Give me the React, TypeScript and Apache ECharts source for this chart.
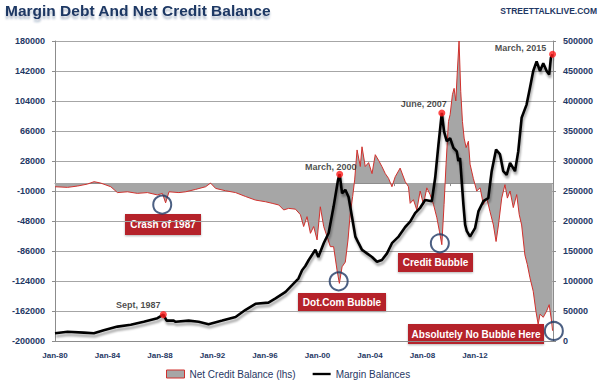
import React, { useEffect, useRef } from "react";
import * as echarts from "echarts";

// Margin balances (rhs), [decimal year, value]
const marginYears = [1980.0, 1980.89, 1982.04, 1982.75, 1983.45, 1984.42, 1985.36, 1986.28, 1987.25, 1987.67, 1987.9, 1988.4, 1988.54, 1989.46, 1990.17, 1990.87, 1991.84, 1992.78, 1993.49, 1994.19, 1995.11, 1995.61, 1996.32, 1996.78, 1997.23, 1997.49, 1997.72, 1997.96, 1998.43, 1998.64, 1999.02, 1999.37, 1999.72, 2000.03, 2000.15, 2000.32, 2000.55, 2000.78, 2001.02, 2001.26, 2001.49, 2001.73, 2002.08, 2002.44, 2002.79, 2003.14, 2003.5, 2003.85, 2004.32, 2004.79, 2005.14, 2005.49, 2005.85, 2006.2, 2006.67, 2006.91, 2007.14, 2007.38, 2007.54, 2007.73, 2007.97, 2008.2, 2008.44, 2008.55, 2008.67, 2008.79, 2008.91, 2009.03, 2009.15, 2009.38, 2009.73, 2009.97, 2010.32, 2010.67, 2010.91, 2011.22, 2011.5, 2011.73, 2011.97, 2012.21, 2012.56, 2012.79, 2013.03, 2013.38, 2013.62, 2013.85, 2014.09, 2014.33, 2014.56, 2014.8, 2014.98, 2015.1, 2015.22];
const marginValues = [13000, 15500, 14000, 13000, 18000, 24000, 27000, 32000, 38000, 44000, 34000, 34000, 32000, 34000, 32000, 28000, 34000, 40000, 52000, 62000, 64000, 71000, 82000, 93000, 104000, 118000, 125000, 135000, 152000, 140000, 163000, 180000, 224000, 268000, 278000, 246000, 252000, 240000, 207000, 174000, 163000, 152000, 146000, 140000, 132000, 135000, 146000, 163000, 174000, 190000, 199000, 213000, 222000, 235000, 233000, 272000, 327000, 380000, 349000, 333000, 338000, 322000, 316000, 300000, 305000, 266000, 227000, 194000, 183000, 174000, 188000, 216000, 233000, 238000, 283000, 319000, 311000, 283000, 277000, 297000, 283000, 316000, 372000, 394000, 422000, 450000, 466000, 450000, 463000, 450000, 444000, 472000, 478000];

// Net credit balance (lhs)
const creditYears = [1980.0, 1980.89, 1981.6, 1982.3, 1982.77, 1983.24, 1983.95, 1984.42, 1985.13, 1985.83, 1986.54, 1987.25, 1987.6, 1987.83, 1988.07, 1988.77, 1989.25, 1989.95, 1990.66, 1991.01, 1991.37, 1992.07, 1992.78, 1993.49, 1994.19, 1994.9, 1995.37, 1995.84, 1996.19, 1996.54, 1997.02, 1997.37, 1997.6, 1997.84, 1998.08, 1998.31, 1998.55, 1998.78, 1999.02, 1999.26, 1999.49, 1999.72, 1999.96, 2000.13, 2000.32, 2000.55, 2000.74, 2000.9, 2001.07, 2001.21, 2001.38, 2001.61, 2001.73, 2001.96, 2002.2, 2002.44, 2002.67, 2002.9, 2003.14, 2003.38, 2003.61, 2003.85, 2004.08, 2004.43, 2004.79, 2005.02, 2005.14, 2005.37, 2005.61, 2005.85, 2006.08, 2006.32, 2006.55, 2006.79, 2007.03, 2007.21, 2007.38, 2007.54, 2007.68, 2007.85, 2007.97, 2008.13, 2008.25, 2008.37, 2008.48, 2008.6, 2008.72, 2008.84, 2008.96, 2009.1, 2009.26, 2009.38, 2009.61, 2009.85, 2010.09, 2010.32, 2010.56, 2010.79, 2011.03, 2011.22, 2011.39, 2011.62, 2011.85, 2012.02, 2012.21, 2012.44, 2012.68, 2012.86, 2013.03, 2013.26, 2013.43, 2013.62, 2013.85, 2014.04, 2014.2, 2014.33, 2014.56, 2014.8, 2014.98, 2015.15, 2015.22];
const creditValues = [-4600, -5400, -3700, -1200, 1800, 0, -4600, -12000, -11000, -13000, -12000, -15000, -13000, -25000, -11000, -12000, -11000, -8000, -4600, 0, -6700, -9700, -12000, -17000, -21500, -23600, -25600, -27700, -34000, -32000, -33000, -40000, -55000, -42500, -63600, -55000, -72000, -30000, -55000, -68000, -80500, -80500, -110000, -127000, -106000, -100000, -72000, -38000, -17000, 4000, 42000, 21000, 46000, 21000, 26000, 12000, 36000, 29000, 21000, 12000, 6000, -4600, 8000, 19000, 1800, -4600, -25600, -21000, -34000, -10000, -27000, -6000, -14500, -27000, -44000, -61000, -78000, -27000, 24000, 78000, 87000, 112000, 120000, 104000, 142000, 180000, 116000, 78000, 57000, 45000, 53000, 24000, 6000, -10000, -6000, -27000, -19000, -36000, -53000, -74000, -53000, -19000, -2000, -19000, -10000, -31000, -14500, -40000, -53000, -91000, -103000, -120000, -137000, -162000, -179000, -166000, -170000, -162000, -154000, -175000, -187000];

// Highlighted margin peaks
const peakYears = [1987.67, 2000.15, 2007.38, 2015.22];
const peakValues = [44000, 278000, 380000, 478000];
const peakLabels = ["Sept, 1987", "March, 2000", "June, 2007", "March, 2015"];

// Circled net credit lows
const lowYears = [1987.59, 2000.08, 2007.24, 2015.31];
const lowValues = [-27300, -124400, -76250, -187300];

// Axis tick labels
const xTickYears = [1980, 1984, 1988, 1992, 1996, 2000, 2004, 2008, 2012];
const xTickLabels = ["Jan-80", "Jan-84", "Jan-88", "Jan-92", "Jan-96", "Jan-00", "Jan-04", "Jan-08", "Jan-12"];

const NAVY = "#1F3864";
const RED = "#D0312D";
const BOX = "#B5202A";
const FONT = "'Liberation Sans', Arial, sans-serif";

export default function App() {
  const ref = useRef<HTMLDivElement>(null);
  useEffect(() => {
    if (!ref.current) return;
    const chart = echarts.init(ref.current, null, { renderer: "svg" });
    const labelOffsets = [[-25, -2], [-9, 1], [-18, -1], [-32, 1.5]];
    const boxes = [
      { text: "Crash of 1987", x: 125, y: 214, w: 76, h: 21 },
      { text: "Dot.Com Bubble", x: 298, y: 293, w: 88, h: 18 },
      { text: "Credit Bubble", x: 398, y: 253, w: 75, h: 19 },
      { text: "Absolutely No Bubble Here", x: 408, y: 324, w: 136, h: 20 },
    ];
    const plain = (v: number) => String(v);
    const option: any = {
      animation: false,
      backgroundColor: "#ffffff",
      textStyle: { fontFamily: FONT },
      title: [
        {
          text: "Margin Debt And Net Credit Balance",
          left: 5,
          top: 2,
          padding: 0,
          textStyle: {
            fontFamily: FONT,
            fontSize: 15.5,
            fontWeight: "bold",
            color: NAVY,
            textShadowColor: "rgba(31,56,100,0.35)",
            textShadowBlur: 2,
            textShadowOffsetY: 3,
          },
        },
        {
          text: "STREETTALKLIVE.COM",
          right: 3,
          top: 6,
          padding: 0,
          textStyle: { fontFamily: FONT, fontSize: 8.5, fontWeight: "bold", color: NAVY },
        },
      ],
      grid: { left: 55, right: 47, top: 41, bottom: 42 },
      legend: {
        left: 166,
        top: 369,
        padding: 0,
        itemWidth: 18,
        itemHeight: 8,
        itemGap: 17,
        symbolKeepAspect: true,
        textStyle: { fontFamily: FONT, fontSize: 10, color: NAVY },
        data: [
          {
            name: "Net Credit Balance (lhs)",
            icon: "rect",
            itemStyle: { color: "#A6A6A6", borderColor: RED, borderWidth: 1 },
          },
          {
            name: "Margin Balances",
            icon: "path://M0,0L20,0L20,2.6L0,2.6Z",
            itemStyle: { color: "#000", borderWidth: 0 },
          },
        ],
      },
      xAxis: [
        {
          type: "value",
          min: 1980,
          max: 2015.25,
          interval: 4,
          axisLine: { show: true, onZero: true, onZeroAxisIndex: 0, lineStyle: { color: "#8c8c8c", width: 1 } },
          axisTick: { show: true, length: 3, lineStyle: { color: "#8c8c8c" } },
          axisLabel: { show: false },
          splitLine: { show: false },
        },
        {
          type: "value",
          position: "bottom",
          min: 1980,
          max: 2017.94,
          interval: 4,
          axisLine: { show: true, onZero: false, lineStyle: { color: "#8c8c8c", width: 1 } },
          axisTick: { show: false },
          splitLine: { show: false },
          axisLabel: {
            margin: 10,
            fontFamily: FONT,
            fontSize: 8,
            fontWeight: "bold",
            color: NAVY,
            showMinLabel: true,
            showMaxLabel: true,
            formatter: (v: number) => {
              const i = xTickYears.indexOf(Math.round(v * 100) / 100);
              return i >= 0 ? xTickLabels[i] : "";
            },
          },
        },
      ],
      yAxis: [
        {
          type: "value",
          position: "left",
          min: -200000,
          max: 180000,
          interval: 38000,
          axisLine: { show: true, lineStyle: { color: "#8c8c8c" } },
          axisTick: { show: true, length: 3, lineStyle: { color: "#8c8c8c" } },
          axisLabel: { margin: 10, fontFamily: FONT, fontSize: 9, fontWeight: "bold", color: NAVY, formatter: plain },
          splitLine: { show: true, lineStyle: { color: "#a6a6a6", width: 1 } },
        },
        {
          type: "value",
          position: "right",
          min: 0,
          max: 500000,
          interval: 50000,
          axisLine: { show: true, lineStyle: { color: "#8c8c8c" } },
          axisTick: { show: true, length: 3, lineStyle: { color: "#8c8c8c" } },
          axisLabel: { margin: 10, fontFamily: FONT, fontSize: 9, fontWeight: "bold", color: NAVY, formatter: plain },
          splitLine: { show: false },
        },
      ],
      series: [
        {
          name: "Net Credit Balance (lhs)",
          type: "line",
          xAxisIndex: 0,
          yAxisIndex: 0,
          symbol: "none",
          data: creditYears.map((y, i) => [y, creditValues[i]]),
          itemStyle: { color: RED },
          lineStyle: { color: RED, width: 1 },
          areaStyle: { color: "#A6A6A6", opacity: 1, origin: 0 },
          z: 2,
        },
        {
          name: "Margin Balances",
          type: "line",
          xAxisIndex: 0,
          yAxisIndex: 1,
          symbol: "none",
          data: marginYears.map((y, i) => [y, marginValues[i]]),
          itemStyle: { color: "#000" },
          lineStyle: {
            color: "#000",
            width: 2.6,
            shadowColor: "rgba(0,0,0,0.35)",
            shadowBlur: 2,
            shadowOffsetX: 1,
            shadowOffsetY: 3,
          },
          z: 3,
        },
        {
          name: "peaks",
          type: "scatter",
          xAxisIndex: 0,
          yAxisIndex: 1,
          symbolSize: 7,
          clip: false,
          itemStyle: { color: "#FF1A1A" },
          data: peakYears.map((y, i) => ({
            value: [y, peakValues[i]],
            label: {
              show: true,
              formatter: peakLabels[i],
              position: "top",
              distance: 0,
              offset: labelOffsets[i],
              fontFamily: FONT,
              fontSize: 9,
              fontWeight: "bold",
              color: "#1a1a1a",
            },
          })),
          z: 5,
        },
        {
          name: "lows",
          type: "scatter",
          xAxisIndex: 0,
          yAxisIndex: 0,
          symbol: "circle",
          symbolSize: 18,
          clip: false,
          itemStyle: { color: "rgba(0,0,0,0)", borderColor: NAVY, borderWidth: 2 },
          data: lowYears.map((y, i) => [y, lowValues[i]]),
          z: 6,
        },
      ],
      graphic: boxes.map((b) => ({
        type: "group",
        left: b.x,
        top: b.y,
        z: 100,
        children: [
          {
            type: "rect",
            shape: { x: 0, y: 0, width: b.w, height: b.h },
            style: { fill: BOX, shadowColor: "rgba(0,0,0,0.3)", shadowBlur: 2, shadowOffsetY: 1 },
          },
          {
            type: "text",
            x: b.w / 2,
            y: b.h / 2,
            style: {
              text: b.text,
              fill: "#ffffff",
              font: `bold 10px ${FONT}`,
              textAlign: "center",
              textVerticalAlign: "middle",
            },
          },
        ],
      })),
    };
    chart.setOption(option);
    return () => chart.dispose();
  }, []);
  return (
    <div
      ref={ref}
      style={{ position: "fixed", left: 0, top: 0, width: 600, height: 383, background: "#fff" }}
    />
  );
}
